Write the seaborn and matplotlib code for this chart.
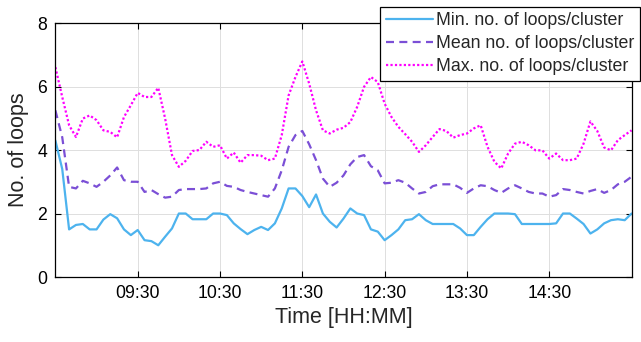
import numpy as np
import pandas as pd
import matplotlib
matplotlib.use("Agg")
import matplotlib.pyplot as plt
import seaborn as sns

# ---------------- data ----------------
start_time = "08:30"          # first sample
sample_step_min = 5           # minutes between samples

min_loops = [4.3, 3.4, 1.5, 1.64, 1.67, 1.5, 1.5, 1.81, 1.98, 1.85, 1.5, 1.32,
             1.48, 1.16, 1.13, 1.0, 1.27, 1.53, 2.0, 2.0, 1.82, 1.82, 1.82, 2.0,
             2.0, 1.95, 1.69, 1.51, 1.35, 1.48, 1.58, 1.48, 1.69, 2.16, 2.79, 2.79,
             2.55, 2.2, 2.6, 2.0, 1.74, 1.56, 1.84, 2.16, 2.0, 1.95, 1.5, 1.43,
             1.16, 1.32, 1.5, 1.79, 1.82, 1.98, 1.79, 1.67, 1.67, 1.67, 1.67, 1.53,
             1.32, 1.32, 1.58, 1.82, 2.0, 2.0, 2.0, 1.98, 1.67, 1.67, 1.67, 1.67,
             1.67, 1.69, 2.0, 2.0, 1.84, 1.67, 1.37, 1.5, 1.69, 1.79, 1.82, 1.79,
             2.0]

mean_loops = [5.25, 4.4, 2.84, 2.79, 3.03, 2.95, 2.84, 3.0, 3.2, 3.45, 3.05, 3.0,
              3.0, 2.68, 2.74, 2.61, 2.5, 2.53, 2.74, 2.77, 2.77, 2.77, 2.79, 2.95,
              3.0, 2.87, 2.84, 2.74, 2.68, 2.63, 2.58, 2.53, 2.79, 3.36, 4.1, 4.47,
              4.6, 4.18, 3.68, 3.1, 2.84, 2.97, 3.2, 3.55, 3.78, 3.84, 3.49, 3.36,
              2.95, 2.97, 3.05, 2.97, 2.79, 2.63, 2.68, 2.86, 2.92, 2.92, 2.92, 2.81,
              2.65, 2.79, 2.89, 2.86, 2.74, 2.65, 2.79, 2.89, 2.79, 2.68, 2.63, 2.63,
              2.53, 2.58, 2.77, 2.74, 2.68, 2.63, 2.71, 2.77, 2.65, 2.74, 2.92, 3.0,
              3.16]

max_loops = [6.61, 5.67, 4.78, 4.41, 4.99, 5.09, 4.94, 4.62, 4.57, 4.4, 5.04, 5.41,
             5.8, 5.67, 5.67, 5.96, 4.99, 3.84, 3.47, 3.66, 3.97, 4.0, 4.26, 4.1,
             4.15, 3.73, 3.92, 3.6, 3.84, 3.84, 3.82, 3.68, 3.73, 4.47, 5.72, 6.3,
             6.79, 6.09, 5.25, 4.62, 4.52, 4.64, 4.7, 4.88, 5.36, 5.99, 6.3, 6.14,
             5.46, 5.04, 4.73, 4.5, 4.26, 3.94, 4.15, 4.41, 4.66, 4.6, 4.39, 4.47,
             4.52, 4.68, 4.78, 4.1, 3.63, 3.42, 3.89, 4.2, 4.26, 4.15, 3.99, 3.99,
             3.73, 3.89, 3.68, 3.68, 3.73, 4.2, 4.9, 4.6, 4.08, 3.99, 4.31, 4.47,
             4.62]

series_labels = ["Min. no. of loops/cluster",
                 "Mean no. of loops/cluster",
                 "Max. no. of loops/cluster"]
xtick_labels = ["09:30", "10:30", "11:30", "12:30", "13:30", "14:30"]
x_range = ("08:30", "15:30")
ytick_values = [0, 2, 4, 6, 8]


def to_min(s):
    h, m = s.split(":")
    return int(h) * 60 + int(m)


times = to_min(start_time) + sample_step_min * np.arange(len(min_loops))
df = pd.DataFrame({"time": times, "min": min_loops, "mean": mean_loops, "max": max_loops})

# ---------------- style ----------------
sns.set_style("ticks")
plt.rcParams["font.family"] = ["Liberation Sans", "DejaVu Sans"]

fig = plt.figure(figsize=(6.41, 3.42), dpi=100)
ax = fig.add_axes([0.0864, 0.190, 0.8989, 0.7427])

sns.lineplot(data=df, x="time", y="min", ax=ax, color="#4db3ee", lw=1.6,
             label=series_labels[0])
sns.lineplot(data=df, x="time", y="mean", ax=ax, color="#7b4fd6", lw=1.6,
             label=series_labels[1])
sns.lineplot(data=df, x="time", y="max", ax=ax, color="#ff00ff", lw=1.6,
             label=series_labels[2])
ax.lines[1].set_dashes([3.6, 2.4])
ax.lines[2].set_dashes([1.0, 1.0])

ax.set_xlim(to_min(x_range[0]), to_min(x_range[1]))
ax.set_ylim(ytick_values[0], ytick_values[-1])
ax.set_xticks([to_min(s) for s in xtick_labels])
ax.set_xticklabels(xtick_labels)
ax.set_yticks(ytick_values)

ax.tick_params(direction="in", top=True, right=True, length=4, width=0.8,
               labelsize=12.7, colors="black", pad=6)
ax.grid(True, color="#dedede", lw=0.7)
ax.set_axisbelow(True)
for sp in ax.spines.values():
    sp.set_visible(True)
    sp.set_color("black")
    sp.set_linewidth(0.9)

ax.set_xlabel("Time [HH:MM]", fontsize=15.5, labelpad=3)
ax.set_ylabel("No. of loops", fontsize=15.5, labelpad=6)

leg = ax.legend(loc="upper right", bbox_to_anchor=(640 / 641, 1 - 7 / 342),
                bbox_transform=fig.transFigure, borderaxespad=0,
                fontsize=12.8, frameon=True, fancybox=False, framealpha=1,
                edgecolor="black", handlelength=2.65, handletextpad=0.2,
                labelspacing=0.34, borderpad=0.3)
leg.get_frame().set_linewidth(0.9)

fig.savefig("out.png", dpi=100)
